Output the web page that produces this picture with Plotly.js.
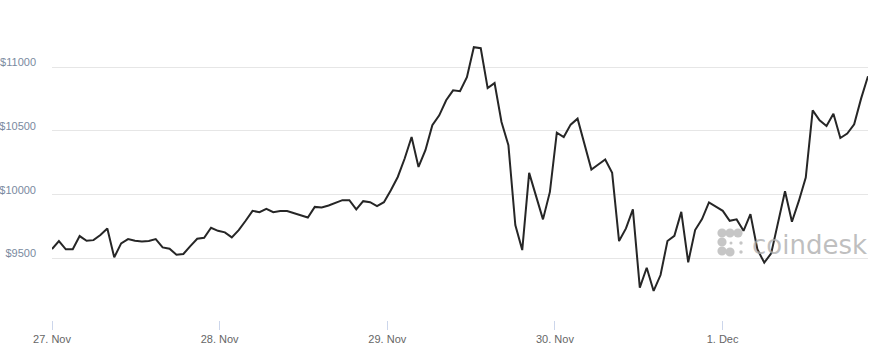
<!DOCTYPE html>
<html>
<head>
<meta charset="utf-8">
<script src="https://cdn.plot.ly/plotly-3.0.1.min.js"></script>
<style>html,body{margin:0;padding:0;background:#fff;}#chart{width:877px;height:353px;}</style>
</head>
<body>
<div id="chart"></div>
<script>
// BTC price (USD), sampled about every hour, starting 27 Nov 00:00
const startTime = "2017-11-27T00:00:00";
const stepMinutes = 59.4;
const prices = [
  9573, 9636, 9571, 9571, 9675, 9638, 9643, 9683, 9735, 9508,
  9618, 9651, 9638, 9633, 9636, 9651, 9586, 9575, 9528, 9534,
  9596, 9654, 9661, 9740, 9716, 9704, 9665, 9722, 9795, 9873,
  9863, 9889, 9863, 9871, 9871, 9854, 9838, 9821, 9904, 9900,
  9915, 9933, 9957, 9957, 9884, 9949, 9941, 9910, 9941, 10035,
  10139, 10284, 10453, 10218, 10349, 10545, 10623, 10741, 10819, 10813,
  10923, 11158, 11150, 10837, 10876, 10571, 10388, 9761, 9565, 10171,
  9983, 9806, 10022, 10487, 10453, 10550, 10597, 10401, 10197, 10237,
  10276, 10171, 9636, 9735, 9884, 9270, 9426, 9244, 9369, 9636,
  9677, 9865, 9469, 9722, 9808, 9939, 9904, 9873, 9795, 9806,
  9716, 9847, 9571, 9466, 9539, 9779, 10027, 9787, 9951, 10135,
  10662, 10584, 10539, 10636, 10445, 10480, 10552, 10754, 10930
];
const yTickValues = [9500, 10000, 10500, 11000];
const watermarkText = "coindesk";

const t0 = new Date(startTime + "Z").getTime();
const times = prices.map((_, i) => {
  const d = new Date(t0 + Math.round(i * stepMinutes * 60000));
  return d.toISOString().slice(0, 19).replace("T", " ");
});

const trace = {
  x: times,
  y: prices,
  type: "scatter",
  mode: "lines",
  line: {color: "#262626", width: 2},
  hoverinfo: "skip"
};

// logo dots (paper coords inside the plot area)
const px = v => (v - 52) / 816;
const py = v => (320 - v) / 310;
const dots = [
  [722, 233, 4.6], [730, 233, 4.6], [738, 233, 4.6],
  [722, 242, 4.6], [722, 251, 4.6], [730, 252, 4.6],
  [741, 243, 1.7], [741, 252, 1.7], [731, 243, 1.5]
];
const shapes = dots.map(([cx, cy, r]) => ({
  type: "circle", xref: "paper", yref: "paper", layer: "below",
  x0: px(cx - r), x1: px(cx + r), y0: py(cy + r), y1: py(cy - r),
  fillcolor: "#c6c6c6", line: {width: 0}
}));

const layout = {
  width: 877, height: 353,
  margin: {l: 52, r: 9, t: 10, b: 33, pad: 0},
  paper_bgcolor: "#fff", plot_bgcolor: "#fff",
  showlegend: false,
  font: {family: "Liberation Sans, Arial, sans-serif"},
  xaxis: {
    type: "date",
    range: [times[0], times[times.length - 1]],
    showgrid: false, zeroline: false, showline: false,
    ticks: "outside", ticklen: 9, tickwidth: 1, tickcolor: "#ccd6eb",
    tick0: "2017-11-27", dtick: 86400000,
    tickformat: "%-d. %b",
    tickfont: {size: 11, color: "#666666"}
  },
  yaxis: {
    range: [9016, 11450],
    tickvals: yTickValues,
    ticktext: yTickValues.map(v => "$" + v),
    showgrid: true, gridcolor: "#e6e6e6", gridwidth: 1,
    zeroline: false, showline: false, ticks: "",
    ticklabelstandoff: 15, ticklabelshift: -5,
    tickfont: {size: 11, color: "#7a8aa0"}
  },
  shapes: shapes,
  annotations: [{
    text: watermarkText, xref: "paper", yref: "paper",
    x: px(869), y: py(262), xanchor: "right", yanchor: "bottom",
    showarrow: false,
    font: {family: "DejaVu Sans, sans-serif", size: 26, color: "rgba(170,170,170,0.75)"}
  }]
};

Plotly.newPlot("chart", [trace], layout, {displayModeBar: false, staticPlot: true});
</script>
</body>
</html>
